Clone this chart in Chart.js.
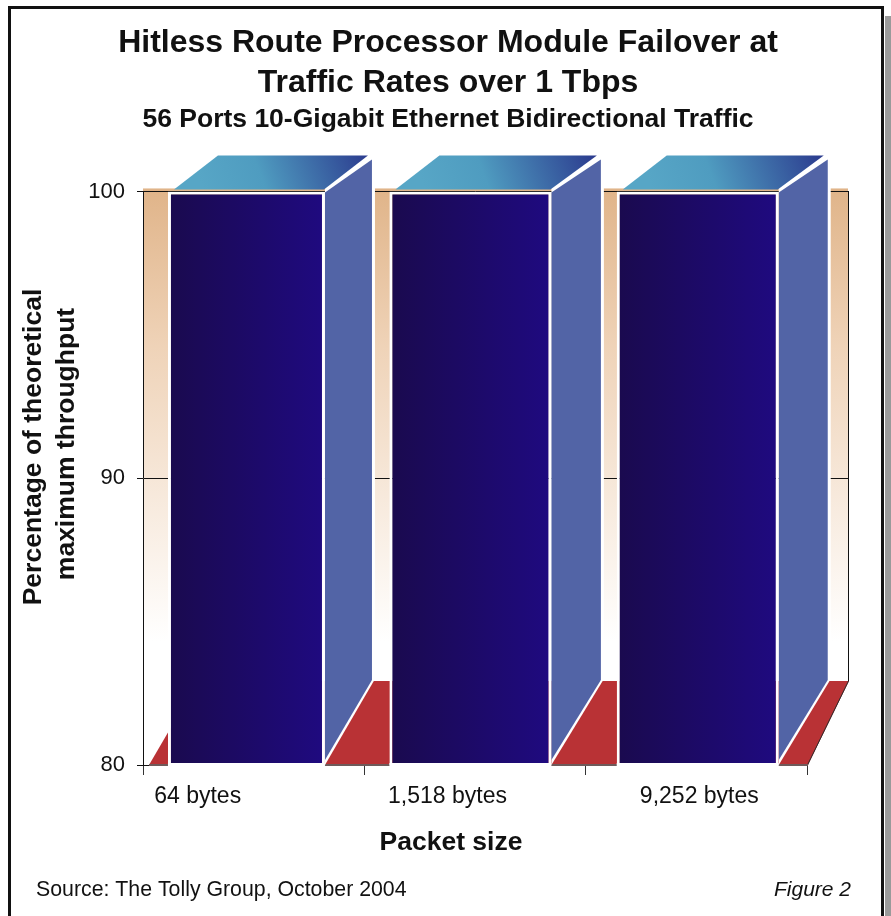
<!DOCTYPE html>
<html>
<head>
<meta charset="utf-8">
<style>
  html, body { margin: 0; background: #fff; overflow: hidden; }
  #shadow { position: absolute; left: 885px; top: 16px; width: 6px; height: 900px; background: #9a9a9a; }
  #frame { position: absolute; left: 8px; top: 6px; width: 870px; height: 930px; border: 3px solid #111; background: #fff; }
  canvas { position: absolute; left: 0; top: 0; }
</style>
</head>
<body>
<div id="shadow"></div>
<div id="frame"></div>
<canvas id="chart" width="891" height="916"></canvas>
<script src="https://cdn.jsdelivr.net/npm/chart.js@4"></script>
<script>
// data
const categories = ["64 bytes", "1,518 bytes", "9,252 bytes"];
const throughput = [100, 100, 100];
const yMin = 80;
const yMax = 100;
const yStep = 10;

const titleLines = ["Hitless Route Processor Module Failover at", "Traffic Rates over 1 Tbps"];
const subtitleLine = "56 Ports 10-Gigabit Ethernet Bidirectional Traffic";
const yTitleLines = ["Percentage of theoretical", "maximum throughput"];
const xTitle = "Packet size";
const sourceNote = "Source: The Tolly Group, October 2004";
const figureNote = "Figure 2";

// the bars are not centred in their categories in the original
const barShift = [-7.2, -4.6, 1.4];
const barWidth = [157, 162, 162];
const barDepth = [47, 49.5, 49];
const labelShift = [-56, -27.5, 3];

const fontName = "'Liberation Sans', Arial, sans-serif";
Chart.defaults.font.family = fontName;
Chart.defaults.color = "#111";

function frontColor(c) {
  const i = c.dataIndex;
  if (i === undefined) return "#1c0a68";
  const left = c.chart.scales.x.getPixelForValue(i) + barShift[i] - barWidth[i] / 2;
  if (!isFinite(left)) return "#1c0a68";
  const g = c.chart.ctx.createLinearGradient(left, 0, left + barWidth[i], 0);
  g.addColorStop(0, "#1a0a4e");
  g.addColorStop(1, "#1f0a80");
  return g;
}

function poly(ctx, pts, fill) {
  ctx.beginPath();
  pts.forEach((p, i) => (i ? ctx.lineTo(p[0], p[1]) : ctx.moveTo(p[0], p[1])));
  ctx.closePath();
  ctx.fillStyle = fill;
  ctx.fill();
}

function text(ctx, str, x, y, font, align) {
  ctx.font = font;
  ctx.textAlign = align || "center";
  ctx.textBaseline = "middle";
  ctx.fillStyle = "#111";
  ctx.fillText(str, x, y);
}

const depthX = 41;      // right edge of the back wall and floor
const floorDrop = 84;   // floor depth in pixels

const box3d = {
  id: "box3d",
  // move bars to where they sit in the original
  afterDatasetsUpdate(chart) {
    chart.getDatasetMeta(0).data.forEach((el, i) => {
      el.x = chart.scales.x.getPixelForValue(i) + barShift[i];
      el.width = barWidth[i];
    });
  },
  // back wall
  beforeDraw(chart) {
    const ctx = chart.ctx, a = chart.chartArea;
    const g = ctx.createLinearGradient(0, a.top - 3, 0, a.top + 450);
    g.addColorStop(0, "#e0b489");
    g.addColorStop(0.35, "#efd3b8");
    g.addColorStop(1, "#ffffff");
    ctx.fillStyle = g;
    ctx.fillRect(a.left, a.top - 3, a.right + depthX - a.left, 453);
  },
  // wall lines and floor, under the bars
  beforeDatasetsDraw(chart) {
    const ctx = chart.ctx, a = chart.chartArea, y = chart.scales.y;
    ctx.strokeStyle = "#111";
    ctx.lineWidth = 1;
    ctx.beginPath();
    y.ticks.forEach(t => {
      if (t.value === yMin) return;
      const py = Math.round(y.getPixelForValue(t.value)) + 0.5;
      ctx.moveTo(a.right, py);
      ctx.lineTo(a.right + depthX + 0.5, py);
    });
    const top = Math.round(y.getPixelForValue(yMax));
    ctx.moveTo(a.right + depthX + 0.5, top);
    ctx.lineTo(a.right + depthX + 0.5, a.bottom - floorDrop);
    ctx.stroke();

    poly(ctx, [
      [a.left + 6, a.bottom],
      [a.right + 1, a.bottom],
      [a.right + depthX + 1, a.bottom - floorDrop],
      [a.left + 55, a.bottom - floorDrop]
    ], "#b93235");

    ctx.strokeStyle = "#2b2b2b";
    ctx.beginPath();
    ctx.moveTo(a.right + 0.5, a.bottom);
    ctx.lineTo(a.right + depthX + 0.5, a.bottom - floorDrop);
    ctx.stroke();
    ctx.strokeStyle = "#6f5a5a";
    ctx.lineWidth = 2;
    ctx.beginPath();
    ctx.moveTo(a.left + 6, a.bottom);
    ctx.lineTo(a.right + 1, a.bottom);
    ctx.stroke();

    // top and side faces
    const meta = chart.getDatasetMeta(0);
    meta.data.forEach((el, i) => {
      const l = el.x - el.width / 2, r = el.x + el.width / 2;
      const t = el.y, b = a.bottom, d = barDepth[i];
      const tg = ctx.createLinearGradient(l + 40, t + 10, r + 40, t - 50);
      tg.addColorStop(0, "#57a6c6");
      tg.addColorStop(0.35, "#4f9cc0");
      tg.addColorStop(1, "#2b3a8e");
      // white halo first, so the wall stops short of the side face
      poly(ctx, [[r, t - 3], [r + d + 3, t - 37], [r + d + 3, b - floorDrop - 2], [r, b]], "#fff");
      poly(ctx, [[l + 6, t - 2], [l + 50, t - 36], [r + d - 4, t - 36], [r - 1, t - 2]], tg);
      poly(ctx, [[r, t + 1], [r + d, t - 32], [r + d, b - floorDrop - 1], [r, b - 5]], "#5264a6");
    });
  },
  // labels, axis titles, footer
  afterDraw(chart) {
    const ctx = chart.ctx, a = chart.chartArea, x = chart.scales.x;
    // white edge below each bar
    ctx.fillStyle = "#fff";
    chart.getDatasetMeta(0).data.forEach(el => {
      ctx.fillRect(el.x - el.width / 2, a.bottom - 2, el.width, 3);
    });
    categories.forEach((c, i) => {
      text(ctx, c, x.getPixelForValue(i) + labelShift[i], 797, "23px " + fontName);
    });
    text(ctx, xTitle, 451, 843, "bold 26.5px " + fontName);
    ctx.save();
    ctx.translate(34, 447);
    ctx.rotate(-Math.PI / 2);
    text(ctx, yTitleLines[0], 0, 0, "bold 26.5px " + fontName);
    text(ctx, yTitleLines[1], 3, 33, "bold 26.5px " + fontName);
    ctx.restore();
    text(ctx, sourceNote, 36, 890, "21.3px " + fontName, "left");
    text(ctx, figureNote, 851, 890, "italic 21px " + fontName, "right");
  }
};

new Chart(document.getElementById("chart").getContext("2d"), {
  type: "bar",
  data: {
    labels: categories,
    datasets: [{
      data: throughput,
      backgroundColor: frontColor,
      borderColor: "#fff",
      borderWidth: 3,
      borderSkipped: false
    }]
  },
  plugins: [box3d],
  options: {
    responsive: false,
    animation: false,
    layout: { padding: { left: 5, right: 0, top: 0, bottom: 0 } },
    plugins: {
      legend: { display: false },
      tooltip: { enabled: false },
      title: {
        display: true,
        text: titleLines,
        color: "#111",
        font: { size: 32, weight: "bold", lineHeight: 1.26 },
        padding: { top: 23, bottom: 0 }
      },
      subtitle: {
        display: true,
        text: subtitleLine,
        color: "#111",
        font: { size: 26.5, weight: "bold" },
        padding: { top: 0, bottom: 56 }
      }
    },
    scales: {
      x: {
        afterFit(scale) { scale.height = 151; },
        ticks: { display: false },
        border: { display: false },
        grid: { drawOnChartArea: false, color: "#333", tickLength: 10 }
      },
      y: {
        min: yMin,
        max: yMax,
        afterFit(scale) { scale.width = 138; },
        ticks: { stepSize: yStep, padding: 12, color: "#111", font: { size: 22 } },
        border: { display: true, color: "#111" },
        grid: { color: "#111", tickLength: 6 }
      },
      // empty axis that holds the space right of the plot
      yRight: {
        position: "right",
        afterFit(scale) { scale.width = 84; },
        ticks: { display: false },
        border: { display: false },
        grid: { display: false }
      }
    }
  }
});
</script>
</body>
</html>
